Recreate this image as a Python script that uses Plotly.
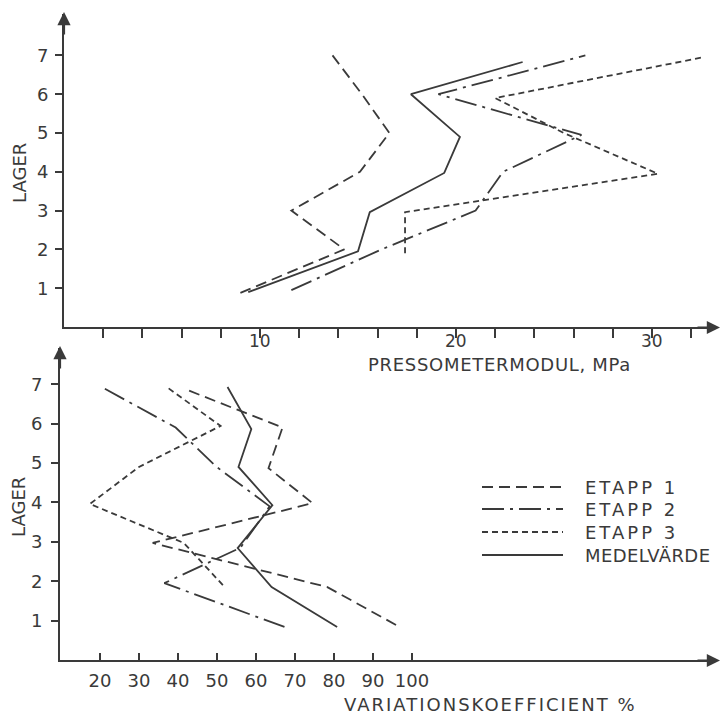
import plotly.graph_objects as go

W, H = 721, 716

# ---------------- data ----------------
# Top panel: pressometer modulus (MPa) per layer
top_e1_x = [9.0, 14.3, 11.6, 15.1, 16.6, 15.2, 13.7]
top_e1_y = [0.88, 2.0, 3.0, 4.0, 5.0, 6.0, 7.0]
top_e2_x = [11.6, 16.2, 21.0, 22.4, 26.4, 19.1, 26.6]
top_e2_y = [0.95, 2.0, 3.0, 4.0, 4.95, 6.0, 7.0]
top_e3_x = [17.4, 17.4, 30.3, 25.5, 22.0, 32.6]
top_e3_y = [1.9, 2.96, 3.95, 5.0, 5.9, 6.95]
top_med_x = [9.4, 15.0, 15.6, 19.4, 20.2, 17.7, 23.4]
top_med_y = [0.9, 1.95, 2.96, 3.97, 4.9, 6.0, 6.83]

# Bottom panel: coefficient of variation (%) per layer
bot_e1_x = [95.9, 78.3, 33.5, 74.5, 63.2, 66.8, 41.7]
bot_e1_y = [0.89, 1.85, 2.97, 3.98, 4.87, 5.9, 6.88]
bot_e2_x = [67.3, 36.5, 56.0, 63.5, 49.9, 39.4, 20.0]
bot_e2_y = [0.84, 1.95, 2.85, 3.9, 4.9, 5.9, 6.95]
bot_e3_x = [51.5, 41.5, 17.4, 30.0, 50.9, 37.1]
bot_e3_y = [1.9, 2.97, 3.96, 4.9, 5.94, 6.93]
bot_med_x = [80.8, 64.0, 55.3, 64.2, 55.5, 58.8, 52.7]
bot_med_y = [0.84, 1.85, 2.84, 3.93, 4.9, 5.86, 6.93]

layer_ticks = [1, 2, 3, 4, 5, 6, 7]
top_x_ticks = list(range(2, 34, 2))
top_x_labels = [10, 20, 30]
bot_x_ticks = [20, 30, 40, 50, 60, 70, 80, 90, 100]

series_names = ["ETAPP 1", "ETAPP 2", "ETAPP 3", "MEDELVÄRDE"]
dashes = ["11px,6px", "22px,6px,3px,6px", "6px,4px", "solid"]

INK = "#3a3a3a"
FONT = "DejaVu Sans"
FS = 18

fig = go.Figure()

top_sets = [(top_e1_x, top_e1_y), (top_e2_x, top_e2_y), (top_e3_x, top_e3_y), (top_med_x, top_med_y)]
bot_sets = [(bot_e1_x, bot_e1_y), (bot_e2_x, bot_e2_y), (bot_e3_x, bot_e3_y), (bot_med_x, bot_med_y)]

for (xs, ys), name, d in zip(top_sets, series_names, dashes):
    fig.add_trace(go.Scatter(x=xs, y=ys, mode="lines", name=name, showlegend=False,
                             line=dict(color=INK, width=1.8, dash=d), xaxis="x", yaxis="y"))
for (xs, ys), name, d in zip(bot_sets, series_names, dashes):
    fig.add_trace(go.Scatter(x=xs, y=ys, mode="lines", name=name, showlegend=False,
                             line=dict(color=INK, width=1.8, dash=d), xaxis="x2", yaxis="y2"))


def px_x(p):
    return p / W


def px_y(p):
    return 1 - p / H


axis_common = dict(showgrid=False, zeroline=False, showline=True, linecolor=INK, linewidth=2,
                   tickcolor=INK, tickwidth=1.5, tickfont=dict(family=FONT, size=FS, color=INK))

fig.update_layout(
    width=W, height=H, margin=dict(l=0, r=0, t=0, b=0),
    paper_bgcolor="white", plot_bgcolor="white", showlegend=False,
    font=dict(family=FONT, size=FS, color=INK),
    xaxis=dict(domain=[px_x(64), px_x(716)], range=[0, (716 - 64) / 19.6], anchor="y",
               tickmode="array", tickvals=top_x_ticks, showticklabels=False,
               ticks="outside", ticklen=9, **axis_common),
    yaxis=dict(domain=[px_y(327), px_y(14)], range=[0, (327 - 14) / 38.8], anchor="x",
               tickmode="array", tickvals=layer_ticks, ticks="outside", ticklen=7,
               ticklabelstandoff=3, **axis_common),
    xaxis2=dict(domain=[px_x(60), px_x(716)], range=[9.74, 9.74 + 656 / 3.9], anchor="y2",
                tickmode="array", tickvals=bot_x_ticks, ticks="inside", ticklen=7,
                ticklabelstandoff=3, **axis_common),
    yaxis2=dict(domain=[px_y(660), px_y(348)], range=[0, (660 - 348) / 39.4], anchor="x2",
                tickmode="array", tickvals=layer_ticks, ticks="outside", ticklen=7,
                ticklabelstandoff=5, **axis_common),
)

# top x tick labels placed just under the ticks
for v in top_x_labels:
    fig.add_annotation(x=v, y=px_y(341), xref="x", yref="paper", text=str(v), showarrow=False,
                       xanchor="center", yanchor="middle", borderpad=0,
                       font=dict(family=FONT, size=17, color=INK))

# axis arrows
arrows = [
    (px_x(720), px_y(327.5), -24, 0),
    (px_x(64), px_y(12), 0, 24),
    (px_x(720), px_y(660.5), -24, 0),
    (px_x(60), px_y(346), 0, 24),
]
for x, y, ax, ay in arrows:
    fig.add_annotation(x=x, y=y, xref="paper", yref="paper", ax=ax, ay=ay, axref="pixel", ayref="pixel",
                       showarrow=True, arrowhead=2, arrowsize=1.2, arrowwidth=2.2, arrowcolor=INK, text="")


def spaced(t, ls):
    return '<span style="letter-spacing:%.1fpx">%s</span>' % (ls, t)


# axis titles
titles = [
    ("PRESSOMETERMODUL, MPa", 499, 364, 0, 0.7),
    ("VARIATIONSKOEFFICIENT %", 490, 704, 0, 2.0),
    ("LAGER", 19, 173, -90, 0.0),
    ("LAGER", 18, 507, -90, 0.0),
]
for t, x, y, ang, ls in titles:
    fig.add_annotation(x=px_x(x), y=px_y(y), xref="paper", yref="paper", text=spaced(t, ls),
                       showarrow=False, textangle=ang, xanchor="center", yanchor="middle", borderpad=0,
                       font=dict(family=FONT, size=FS, color=INK))

# legend (manual)
rows = [487, 509, 532, 555]
legend_spacing = [3.0, 3.0, 3.0, 0.4]
for name, d, r, ls in zip(series_names, dashes, rows, legend_spacing):
    fig.add_shape(type="line", xref="paper", yref="paper", x0=px_x(482), x1=px_x(563),
                  y0=px_y(r), y1=px_y(r), line=dict(color=INK, width=1.8, dash=d))
    fig.add_annotation(x=px_x(583), y=px_y(r), xref="paper", yref="paper", text=spaced(name, ls),
                       showarrow=False, xanchor="left", yanchor="middle",
                       font=dict(family=FONT, size=FS, color=INK))

fig.write_html("out.html")
